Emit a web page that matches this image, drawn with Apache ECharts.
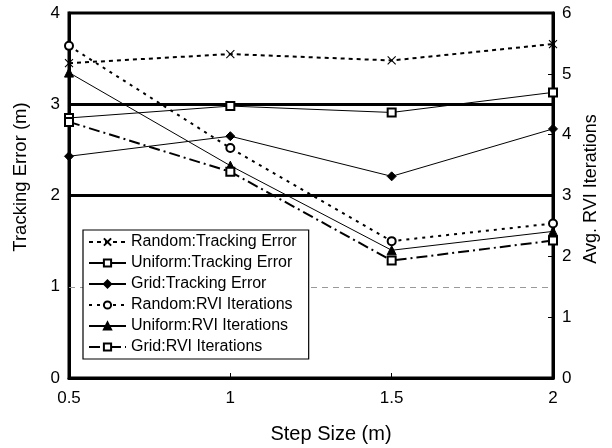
<!DOCTYPE html>
<html>
<head>
<meta charset="utf-8">
<script src="https://cdn.jsdelivr.net/npm/echarts@6/dist/echarts.min.js"></script>
<style>html,body{margin:0;padding:0;background:#fff}#c{width:612px;height:448px}</style>
</head>
<body>
<div id="c"></div>
<script>
var stepSizes = [0.5, 1, 1.5, 2];
var randomTrackingError = [3.45, 3.55, 3.48, 3.66];
var uniformTrackingError = [2.85, 2.98, 2.91, 3.13];
var gridTrackingError = [2.43, 2.65, 2.21, 2.73];
var randomRviIterations = [5.46, 3.78, 2.25, 2.54];
var uniformRviIterations = [5.02, 3.49, 2.10, 2.41];
var gridRviIterations = [4.21, 3.39, 1.93, 2.26];
var seriesNames = ['Random:Tracking Error', 'Uniform:Tracking Error', 'Grid:Tracking Error',
                   'Random:RVI Iterations', 'Uniform:RVI Iterations', 'Grid:RVI Iterations'];
var xTitle = 'Step Size (m)';
var leftTitle = 'Tracking Error (m)';
var rightTitle = 'Avg. RVI Iterations';
var thickRefLines = [3, 2];
var thinRefLines = [1];

function pairs(vals) { return stepSizes.map(function (x, i) { return [x, vals[i]]; }); }

var FONT = 'Liberation Sans, Arial, Helvetica, sans-serif';
var chart = echarts.init(document.getElementById('c'), null, { renderer: 'canvas' });

var xSym = 'path://M0,0L10,10M10,0L0,10';

var markLineData = thickRefLines.map(function (v) {
  return { yAxis: v, lineStyle: { color: '#000', width: 3, type: 'solid' } };
}).concat(thinRefLines.map(function (v) {
  return { yAxis: v, lineStyle: { color: '#999', width: 1, type: [6, 5] } };
}));

function mk(name, data, yIdx, symbol, symbolSize, lineStyle, itemStyle, extra) {
  var s = {
    name: name, type: 'line', yAxisIndex: yIdx, data: pairs(data),
    symbol: symbol, symbolSize: symbolSize, showAllSymbol: true,
    lineStyle: Object.assign({ color: '#000' }, lineStyle),
    itemStyle: Object.assign({ color: '#000', borderColor: '#000', borderWidth: 1 }, itemStyle),
    emphasis: { disabled: true }, z: 3
  };
  return Object.assign(s, extra || {});
}

var option = {
  animation: false,
  backgroundColor: '#fff',
  textStyle: { fontFamily: FONT },
  grid: { left: 69, right: 59, top: 13, bottom: 70, show: true, borderColor: '#000', borderWidth: 3, backgroundColor: 'transparent' },
  legend: {
    orient: 'vertical', left: 83, top: 230,
    data: seriesNames,
    backgroundColor: '#fff', borderColor: '#000', borderWidth: 1.2,
    padding: [4, 12, 4, 5],
    itemWidth: 37, itemHeight: 9, itemGap: 5,
    textStyle: { fontFamily: FONT, fontSize: 16, color: '#000', lineHeight: 16 },
    selectedMode: false
  },
  xAxis: {
    type: 'value', min: 0.5, max: 2, interval: 0.5,
    axisLine: { lineStyle: { color: '#000', width: 3 } },
    axisTick: { inside: true, length: 5, lineStyle: { color: '#000', width: 1 } },
    axisLabel: { color: '#000', fontSize: 17, fontFamily: FONT, margin: 12 },
    splitLine: { show: false }
  },
  yAxis: [{
    type: 'value', min: 0, max: 4, interval: 1, position: 'left',
    axisLine: { show: true, lineStyle: { color: '#000', width: 3 } },
    axisTick: { show: true, inside: true, length: 5, lineStyle: { color: '#000', width: 1 } },
    axisLabel: { color: '#000', fontSize: 17, fontFamily: FONT, margin: 9 },
    splitLine: { show: false }
  }, {
    type: 'value', min: 0, max: 6, interval: 1, position: 'right',
    axisLine: { show: true, lineStyle: { color: '#000', width: 3 } },
    axisTick: { show: true, inside: true, length: 5, lineStyle: { color: '#000', width: 1 } },
    axisLabel: { color: '#000', fontSize: 17, fontFamily: FONT, margin: 9 },
    splitLine: { show: false }
  }],
  graphic: [
    { type: 'text', x: 21, y: 177, rotation: Math.PI / 2, style: { text: leftTitle, font: '18.5px ' + FONT, fill: '#000', textAlign: 'center', textVerticalAlign: 'middle' } },
    { type: 'text', x: 591, y: 189, rotation: Math.PI / 2, style: { text: rightTitle, font: '18px ' + FONT, fill: '#000', textAlign: 'center', textVerticalAlign: 'middle' } },
    { type: 'text', x: 331, y: 434, style: { text: xTitle, font: '20px ' + FONT, fill: '#000', textAlign: 'center', textVerticalAlign: 'middle' } }
  ],
  series: [
    mk(seriesNames[0], randomTrackingError, 0, xSym, 8, { width: 2, type: [4, 4] }, { color: 'none', borderColor: '#000', borderWidth: 1.1 }),
    mk(seriesNames[1], uniformTrackingError, 0, 'emptyRect', 8, { width: 1, type: 'solid' }, {}),
    mk(seriesNames[2], gridTrackingError, 0, 'diamond', 9, { width: 1, type: 'solid' }, {}, {
      markLine: { silent: true, symbol: ['none', 'none'], label: { show: false }, data: markLineData, z: 2 }
    }),
    mk(seriesNames[3], randomRviIterations, 1, 'emptyCircle', 8, { width: 2, type: [3, 5] }, {}),
    mk(seriesNames[4], uniformRviIterations, 1, 'triangle', 9, { width: 1, type: 'solid' }, {}),
    mk(seriesNames[5], gridRviIterations, 1, 'emptyRect', 8, { width: 2, type: [11, 4, 2, 4] }, {})
  ]
};
chart.setOption(option);
</script>
</body>
</html>
